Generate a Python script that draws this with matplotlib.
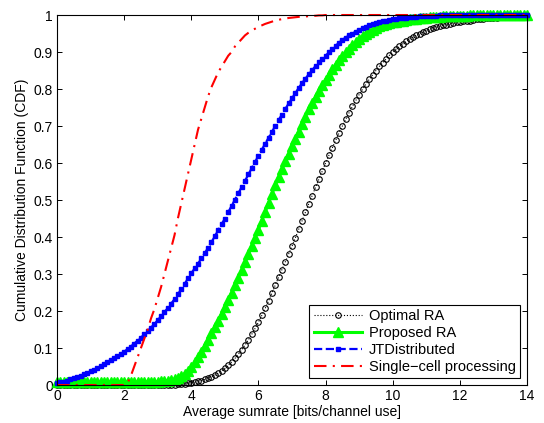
import numpy as np
import matplotlib
matplotlib.use("Agg")
import matplotlib.pyplot as plt

# sampling grid of the average sumrate axis (bits/channel use)
rate = np.linspace(0, 14, 141)

optimal_ra = [
	0, 0, 0, 0, 0, 0, 0, 0, 0, 0,
	0, 0, 0, 0, 0, 0, 0, 0, 0, 0,
	0, 0, 0, 0, 0, 0, 0, 0, 0, 0,
	0, 0, 0, 0.001, 0.001, 0.001, 0.002, 0.003, 0.004, 0.005,
	0.006, 0.008, 0.010, 0.012, 0.015, 0.018, 0.022, 0.027, 0.032, 0.038,
	0.045, 0.053, 0.062, 0.072, 0.083, 0.095, 0.108, 0.122, 0.137, 0.153,
	0.170, 0.188, 0.207, 0.227, 0.248, 0.270, 0.291, 0.312, 0.333, 0.354,
	0.375, 0.398, 0.421, 0.444, 0.467, 0.490, 0.512, 0.534, 0.556, 0.578,
	0.600, 0.621, 0.641, 0.661, 0.681, 0.700, 0.718, 0.736, 0.753, 0.769,
	0.785, 0.799, 0.813, 0.826, 0.838, 0.850, 0.861, 0.871, 0.881, 0.891,
	0.900, 0.908, 0.915, 0.922, 0.929, 0.935, 0.940, 0.945, 0.950, 0.954,
	0.958, 0.961, 0.964, 0.967, 0.970, 0.972, 0.974, 0.976, 0.978, 0.980,
	0.982, 0.983, 0.984, 0.985, 0.987, 0.988, 0.989, 0.990, 0.991, 0.992,
	0.993, 0.993, 0.994, 0.995, 0.995, 0.996, 0.996, 0.997, 0.997, 0.998,
	0.998,
]

proposed_ra = [
	0.008, 0.008, 0.008, 0.008, 0.008, 0.008, 0.008, 0.008, 0.008, 0.008,
	0.008, 0.008, 0.008, 0.008, 0.008, 0.008, 0.008, 0.008, 0.008, 0.008,
	0.008, 0.008, 0.008, 0.008, 0.008, 0.008, 0.008, 0.009, 0.009, 0.009,
	0.009, 0.010, 0.011, 0.012, 0.014, 0.016, 0.020, 0.025, 0.031, 0.039,
	0.048, 0.061, 0.075, 0.090, 0.106, 0.123, 0.140, 0.157, 0.174, 0.192,
	0.210, 0.229, 0.249, 0.269, 0.289, 0.310, 0.332, 0.354, 0.376, 0.398,
	0.420, 0.444, 0.468, 0.492, 0.516, 0.540, 0.562, 0.584, 0.605, 0.625,
	0.645, 0.665, 0.685, 0.705, 0.725, 0.745, 0.762, 0.779, 0.795, 0.810,
	0.825, 0.839, 0.853, 0.866, 0.878, 0.890, 0.900, 0.909, 0.918, 0.927,
	0.935, 0.942, 0.948, 0.954, 0.960, 0.965, 0.969, 0.972, 0.975, 0.978,
	0.980, 0.982, 0.984, 0.985, 0.987, 0.988, 0.989, 0.990, 0.991, 0.992,
	0.993, 0.994, 0.994, 0.995, 0.995, 0.996, 0.996, 0.997, 0.997, 0.997,
	0.998, 0.998, 0.998, 0.999, 0.999, 0.999, 0.999, 0.999, 1.0, 1.0,
	1.0, 1.0, 1.0, 1.0, 1.0, 1.0, 1.0, 1.0, 1.0, 1.0,
	1.0,
]

jt_distributed = [
	0.005, 0.007, 0.009, 0.012, 0.015, 0.018, 0.021, 0.025, 0.029, 0.033,
	0.037, 0.041, 0.046, 0.051, 0.056, 0.062, 0.067, 0.073, 0.078, 0.084,
	0.090, 0.097, 0.104, 0.112, 0.120, 0.128, 0.137, 0.146, 0.155, 0.165,
	0.175, 0.186, 0.197, 0.208, 0.220, 0.232, 0.245, 0.259, 0.273, 0.288,
	0.302, 0.315, 0.328, 0.342, 0.356, 0.371, 0.386, 0.402, 0.418, 0.434,
	0.450, 0.467, 0.484, 0.501, 0.518, 0.535, 0.552, 0.569, 0.586, 0.603,
	0.620, 0.636, 0.652, 0.668, 0.684, 0.700, 0.716, 0.731, 0.746, 0.761,
	0.775, 0.789, 0.803, 0.816, 0.828, 0.840, 0.851, 0.862, 0.872, 0.881,
	0.890, 0.899, 0.908, 0.917, 0.925, 0.933, 0.939, 0.945, 0.950, 0.955,
	0.960, 0.964, 0.968, 0.972, 0.975, 0.978, 0.981, 0.983, 0.985, 0.987,
	0.989, 0.990, 0.991, 0.992, 0.993, 0.994, 0.995, 0.995, 0.996, 0.996,
	0.997, 0.997, 0.998, 0.998, 0.999, 0.999, 0.999, 0.999, 1.0, 1.0,
	1.0, 1.0, 1.0, 1.0, 1.0, 1.0, 1.0, 1.0, 1.0, 1.0,
	1.0, 1.0, 1.0, 1.0, 1.0, 1.0, 1.0, 1.0, 1.0, 1.0,
	1.0,
]

single_cell = [
	0, 0, 0, 0, 0, 0, 0, 0, 0, 0,
	0, 0, 0, 0, 0, 0, 0, 0, 0, 0,
	0, 0.005, 0.025, 0.050, 0.075, 0.100, 0.125, 0.150, 0.180, 0.205,
	0.235, 0.265, 0.300, 0.335, 0.370, 0.405, 0.450, 0.490, 0.530, 0.570,
	0.610, 0.650, 0.690, 0.720, 0.750, 0.780, 0.805, 0.825, 0.845, 0.860,
	0.875, 0.890, 0.900, 0.915, 0.925, 0.935, 0.945, 0.952, 0.958, 0.963,
	0.968, 0.972, 0.976, 0.979, 0.982, 0.985, 0.987, 0.989, 0.990, 0.992,
	0.993, 0.994, 0.995, 0.996, 0.996, 0.997, 0.998, 0.998, 0.999, 0.999,
	1.0, 1.0, 1.0, 1.0, 1.0, 1.0, 1.0, 1.0, 1.0, 1.0,
	1.0, 1.0, 1.0, 1.0, 1.0, 1.0, 1.0, 1.0, 1.0, 1.0,
	1.0, 1.0, 1.0, 1.0, 1.0, 1.0, 1.0, 1.0, 1.0, 1.0,
	1.0, 1.0, 1.0, 1.0, 1.0, 1.0, 1.0, 1.0, 1.0, 1.0,
	1.0, 1.0, 1.0, 1.0, 1.0, 1.0, 1.0, 1.0, 1.0, 1.0,
	1.0, 1.0, 1.0, 1.0, 1.0, 1.0, 1.0, 1.0, 1.0, 1.0,
	1.0,
]

labels = ["Optimal RA", "Proposed RA", "JTDistributed", "Single\u2212cell processing"]
x_ticks = [0, 2, 4, 6, 8, 10, 12, 14]
y_ticks = [0, 0.1, 0.2, 0.3, 0.4, 0.5, 0.6, 0.7, 0.8, 0.9, 1]
y_tick_labels = ["0", "0.1", "0.2", "0.3", "0.4", "0.5", "0.6", "0.7", "0.8", "0.9", "1"]


def draw_curves(ax):
	ax.plot(rate, optimal_ra, color="black", linestyle=":", linewidth=0.8,
		marker="o", markersize=4, markerfacecolor="none", markeredgewidth=0.8,
		label=labels[0], clip_on=False)
	ax.plot(rate, proposed_ra, color="#00ff00", linestyle="-", linewidth=2.2,
		marker="^", markersize=6.5, label=labels[1], clip_on=False)
	ax.plot(rate, jt_distributed, color="blue", linestyle="--", linewidth=1.6,
		marker="s", markersize=3, label=labels[2], clip_on=False)
	ax.plot(rate, single_cell, color="red", linestyle="-", dashes=(6, 3, 1, 3),
		linewidth=1.5, label=labels[3], clip_on=False)


def style_axes(ax):
	ax.set_xlim(0, 14)
	ax.set_ylim(0, 1)
	ax.set_xticks(x_ticks)
	ax.set_yticks(y_ticks)
	ax.set_yticklabels(y_tick_labels)
	ax.tick_params(direction="in", top=True, right=True, length=3.5,
		width=0.7, labelsize=10, pad=3)
	for spine in ax.spines.values():
		spine.set_linewidth(0.8)
	ax.set_xlabel("Average sumrate [bits/channel use]", fontsize=10, labelpad=1)
	ax.set_ylabel("Cumulative Distribution Function (CDF)", fontsize=10, labelpad=3)
	leg = ax.legend(loc="lower right", fontsize=10.5, frameon=True, fancybox=False,
		edgecolor="black", framealpha=1, numpoints=1, handlelength=3.3,
		labelspacing=0.2, borderpad=0.3, handletextpad=0.5, borderaxespad=0.45)
	leg.get_frame().set_linewidth(0.8)


def main():
	plt.rcParams["font.family"] = ["Liberation Sans", "DejaVu Sans"]
	fig = plt.figure(figsize=(5.44, 4.23), dpi=100)
	ax = fig.add_axes([0.1048, 0.0898, 0.864, 0.8747])
	draw_curves(ax)
	style_axes(ax)
	fig.savefig("out.png", dpi=100)


if __name__ == "__main__":
	main()
